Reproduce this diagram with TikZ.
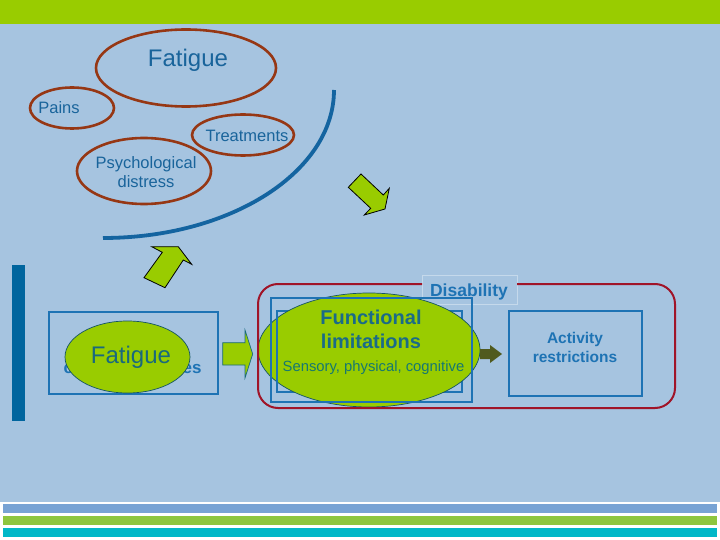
\documentclass[tikz,border=0pt]{standalone}
\usepackage{fontspec}
\setmainfont{Liberation Sans}
\usetikzlibrary{shapes.geometric}
\definecolor{bg}{RGB}{166,196,224}
\definecolor{topgreen}{RGB}{153,204,0}
\definecolor{barblue}{RGB}{120,163,212}
\definecolor{bargreen}{RGB}{141,198,63}
\definecolor{barcyan}{RGB}{0,184,200}
\definecolor{txtblue}{RGB}{25,100,155}
\definecolor{boxblue}{RGB}{30,115,180}
\definecolor{brown}{RGB}{150,55,20}
\definecolor{arcblue}{RGB}{20,100,160}
\definecolor{barleft}{RGB}{0,101,158}
\definecolor{disred}{RGB}{160,20,40}
\definecolor{teal}{RGB}{25,105,125}
\definecolor{olive}{RGB}{80,90,30}
\definecolor{limegreen}{RGB}{153,204,0}
\tikzset{
  oval/.style={ellipse, draw=brown, line width=2.6pt, inner sep=0pt},
  gloval/.style={ellipse, fill=limegreen, draw=teal!80!black, line width=0.7pt, inner sep=0pt},
  small/.style={text=txtblue, font=\fontsize{16.5}{19}\selectfont, align=center, inner sep=0pt},
  big/.style={text=txtblue, font=\fontsize{24}{26}\selectfont, inner sep=0pt},
  bx/.style={draw=boxblue, line width=1.6pt},
  blockarrow/.style={fill=limegreen, draw=black, line width=0.8pt, line join=miter},
}
\begin{document}
\begin{tikzpicture}[x=1pt,y=-1pt]
\useasboundingbox (0,0) rectangle (720,540);
\fill[white] (0,0) rectangle (720,540);
\fill[bg] (0,24) rectangle (720,502);
\fill[topgreen] (0,0) rectangle (720,24);
\fill[barblue] (3,504) rectangle (717,513);
\fill[bargreen] (3,516) rectangle (717,525);
\fill[barcyan] (3,528) rectangle (717,537);

% top ellipses
\node[oval, minimum width=180pt, minimum height=77pt] (fatE) at (186,68) {};
\node[big] (fatT) at (188,60) {Fatigue};
\node[oval, minimum width=84pt, minimum height=41pt] (painE) at (72,108) {};
\node[small] (painT) at (59,108) {Pains};
\node[oval, minimum width=102pt, minimum height=41pt] (treatE) at (243,135) {};
\node[small] (treatT) at (247,136) {Treatments};
\node[oval, minimum width=134pt, minimum height=66pt] (psyE) at (144,171) {};
\node[small] (psyT) at (146,172) {Psychological\\distress};

% arc
\draw[arcblue, line width=3.8pt] (334,90) arc[start angle=0, end angle=-90, x radius=231pt, y radius=148pt];

% block arrows
\draw[blockarrow] (348.3,187.3) -- (361,174) -- (383.3,195) -- (389.3,188.3) -- (385,209) -- (364.3,215) -- (370.7,208.3) -- cycle;
\draw[blockarrow] (178.3,246.7) -- (191.7,264.3) -- (183.3,260) -- (165,287.7) -- (144,277.7) -- (162.3,252.3) -- (151.7,246.7) -- cycle;

% left bar
\fill[barleft] (12,265) rectangle (25,421);

% left box
\node[bx, minimum width=169pt, minimum height=82pt, inner sep=0pt] (leftbox) at (133.5,353) {};
\node[text=boxblue, font=\fontsize{17}{19}\selectfont\bfseries, inner sep=0pt] (leftT) at (132.5,367) {chronic diseases};
\node[gloval, minimum width=125pt, minimum height=72pt] (fat2E) at (127.5,357) {};
\node[text=teal, font=\fontsize{24}{26}\selectfont, inner sep=0pt] (fat2T) at (131,357) {Fatigue};

% green right arrow
\draw[fill=limegreen, draw=teal, line width=0.7pt] (222.7,342.7) -- (245,342.7) -- (245,330) -- (252.7,354) -- (245,378) -- (245,365) -- (222.7,365) -- cycle;

% disability label box
\node[fill=bg, draw=white!35!bg, line width=0.6pt, minimum width=95pt, minimum height=29pt, inner sep=0pt] (disbox) at (469.5,289.5) {};
% functional limitations
\draw[bx] (277,311) rectangle (462,392);
\node[gloval, minimum width=222pt, minimum height=114pt] (funcE) at (369,350) {};
\draw[bx] (277,311) -- (277,392);
\draw[bx] (271,298) rectangle (472,402);
\draw[disred, line width=2pt, rounded corners=20pt] (422,284) -- (258,284) -- (258,408) -- (675,408) -- (675,284) -- (517,284);
\node[text=boxblue, font=\fontsize{17.5}{19}\selectfont\bfseries, inner sep=0pt] (disT) at (469,292) {Disability};
\node[text=teal!80!boxblue, font=\fontsize{20}{24}\selectfont\bfseries, align=center, inner sep=0pt] (funcT) at (371,329) {Functional\\limitations};
\node[text=teal!90!green, font=\fontsize{14.8}{17}\selectfont, inner sep=0pt] (sensT) at (373.5,368) {Sensory, physical, cognitive};

% dark arrow
\fill[olive] (480,349) -- (490,349) -- (490,345) -- (502,354) -- (490,363) -- (490,359) -- (480,359) -- cycle;

% activity box
\node[bx, minimum width=133pt, minimum height=85pt, inner sep=0pt] (actbox) at (575.5,353.5) {};
\node[text=boxblue, font=\fontsize{15.5}{19}\selectfont\bfseries, align=center, inner sep=0pt] (actT) at (575,347.5) {Activity\\restrictions};
\end{tikzpicture}
\end{document}
